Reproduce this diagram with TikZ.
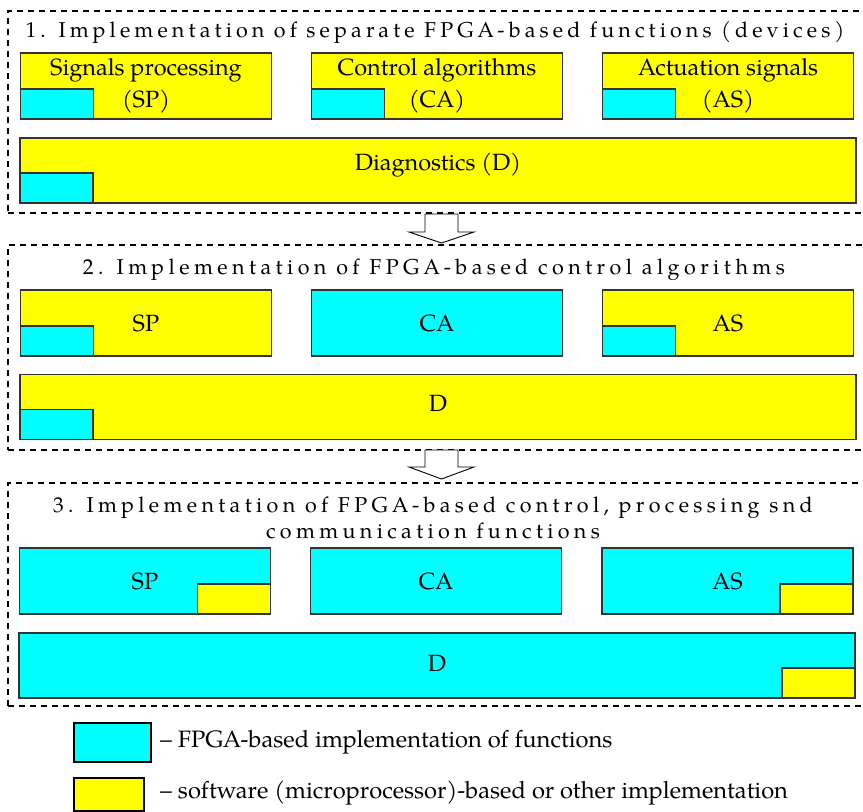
\documentclass[tikz,border=0pt]{standalone}
\usepackage{fontspec}
\setmainfont{TeX Gyre Pagella}
\newfontfamily\titleone[LetterSpace=19.2]{TeX Gyre Pagella}
\newfontfamily\titletwo[LetterSpace=20.6]{TeX Gyre Pagella}
\newfontfamily\titlethree[LetterSpace=20.2]{TeX Gyre Pagella}
\usetikzlibrary{calc}
\definecolor{fpga}{RGB}{0,255,255}
\definecolor{soft}{RGB}{255,255,0}
\tikzset{
  region/.style={draw=black, line width=1.5pt, dash pattern=on 6pt off 5pt,
    inner sep=0pt, outer sep=0pt, anchor=north west},
  fnbox/.style={draw=black!80, line width=1.2pt, inner sep=0pt, outer sep=0pt,
    align=center, font=\fontsize{23.5}{32}\selectfont},
  part/.style={draw=black!80, line width=1.2pt, inner sep=0pt, outer sep=0pt,
    minimum width=73pt, minimum height=30pt},
  rowbox/.style={fnbox, minimum width=251pt, minimum height=66pt},
  diagbox/.style={fnbox, minimum width=836pt, minimum height=65pt},
  heading/.style={inner sep=0pt, align=center, anchor=base},
  label/.style={font=\fontsize{23.5}{28}\selectfont, inner sep=0pt},
  hollow/.style={draw=black, fill=white, line width=0.9pt, line join=miter},
  legbox/.style={draw=black, line width=2pt, inner sep=0pt, outer sep=0pt, anchor=north west},
  legtext/.style={inner sep=0pt, anchor=west, font=\fontsize{23.7}{28}\selectfont}
}
\begin{document}
\begin{tikzpicture}[x=1pt,y=-1pt]
\useasboundingbox (0,0) rectangle (863,812);
\clip (0,0) rectangle (863,812);

% ---------- stage 1 ----------
\node[region, minimum width=858pt, minimum height=202pt] (s1) at (8,11) {};
\node[heading, font=\titleone\fontsize{21.5}{26}\selectfont] (t1) at (435,37)
  {1. Implementation of separate FPGA-based functions (devices)};
\node[rowbox, fill=soft, text depth=6pt] (sp1) at (146,86) {Signals processing\\(SP)};
\node[rowbox, fill=soft, text depth=6pt] (ca1) at (437,86) {Control algorithms\\(CA)};
\node[rowbox, fill=soft, text depth=6pt] (as1) at (728,86) {Actuation signals\\(AS)};
\node[part, fill=fpga, anchor=south west] (sp1p) at (sp1.south west) {};
\node[part, fill=fpga, anchor=south west] (ca1p) at (ca1.south west) {};
\node[part, fill=fpga, anchor=south west] (as1p) at (as1.south west) {};
\node[diagbox, fill=soft] (d1) at (438,170.5) {};
\node[part, fill=fpga, anchor=south west] (d1p) at (d1.south west) {};
\node[label] (d1t) at (438,165) {Diagnostics (D)};

% arrow 1 -> 2
\coordinate (a1) at (441.5,214);
\draw[hollow] (a1) ++(-16.5,0) -- ++(33,0) -- ++(0,18) -- ++(16,0) -- ++(-32.5,11)
  -- ++(-32.5,-11) -- ++(16,0) -- cycle;

% ---------- stage 2 ----------
\node[region, minimum width=858pt, minimum height=205pt] (s2) at (8,245) {};
\node[heading, font=\titletwo\fontsize{21.5}{26}\selectfont] (t2) at (434,274)
  {2. Implementation of FPGA-based control algorithms};
\node[rowbox, fill=soft] (sp2) at (146,323) {SP};
\node[rowbox, fill=fpga] (ca2) at (437,323) {CA};
\node[rowbox, fill=soft] (as2) at (728,323) {AS};
\node[part, fill=fpga, anchor=south west] (sp2p) at (sp2.south west) {};
\node[part, fill=fpga, anchor=south west] (as2p) at (as2.south west) {};
\node[diagbox, fill=soft] (d2) at (438,407) {};
\node[part, fill=fpga, anchor=south west] (d2p) at (d2.south west) {};
\node[label] (d2t) at (438,403.5) {D};

% arrow 2 -> 3
\coordinate (a2) at (441.5,450);
\draw[hollow] (a2) ++(-16.5,0) -- ++(33,0) -- ++(0,17) -- ++(16,0) -- ++(-32.5,12)
  -- ++(-32.5,-12) -- ++(16,0) -- cycle;

% ---------- stage 3 ----------
\node[region, minimum width=858pt, minimum height=223pt] (s3) at (8,483) {};
\node[heading, font=\titlethree\fontsize{21.5}{26.5}\selectfont] (t3) at (433,538.5)
  {3. Implementation of FPGA-based control, processing snd\\communication functions};
\node[rowbox, fill=fpga] (sp3) at (145,581) {SP};
\node[rowbox, fill=fpga] (ca3) at (436,581) {CA};
\node[rowbox, fill=fpga] (as3) at (727.5,581) {AS};
\node[part, fill=soft, anchor=south east] (sp3p) at (sp3.south east) {};
\node[part, fill=soft, anchor=south east] (as3p) at (as3.south east) {};
\node[diagbox, fill=fpga] (d3) at (437,665.5) {};
\node[part, fill=soft, anchor=south east] (d3p) at (d3.south east) {};
\node[label] (d3t) at (437,663) {D};

% ---------- legend ----------
\node[legbox, fill=fpga, minimum width=77pt, minimum height=39pt] (lf) at (74,723) {};
\node[legtext] (lft) at ($(lf.east)+(9,0)$) {– FPGA-based implementation of functions};
\node[legbox, fill=soft, minimum width=70pt, minimum height=33pt] (ls) at (74,778) {};
\node[legtext] (lst) at ($(ls.east)+(16,-1.5)$) {– software (microprocessor)-based or other implementation};
\end{tikzpicture}
\end{document}
